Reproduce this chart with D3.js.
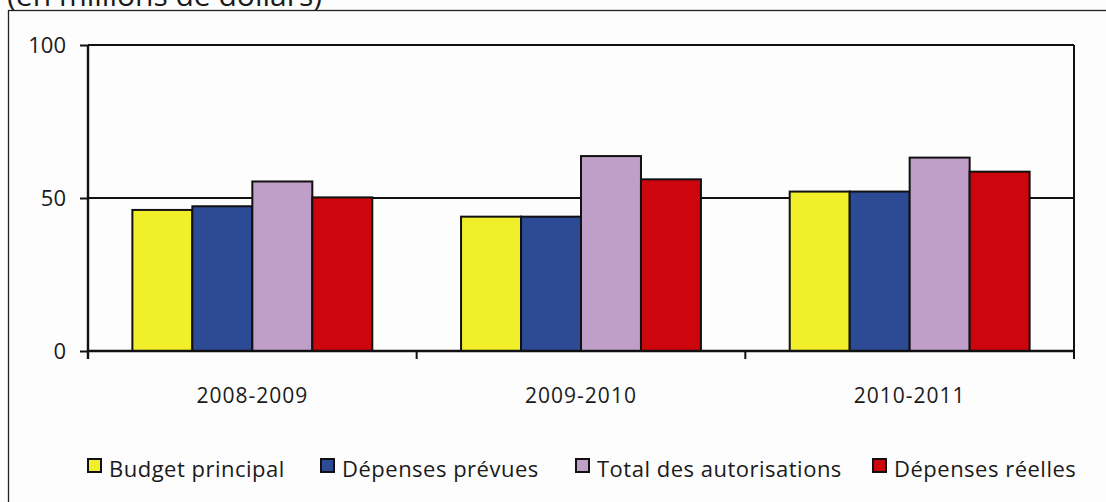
<!DOCTYPE html>
<html>
<head>
<meta charset="utf-8">
<script src="https://cdn.jsdelivr.net/npm/d3@7"></script>
<style>
  body { margin: 0; background: #fdfdfd; }
  svg { display: block; }
  text { font-family: "Open Sans", "DejaVu Sans", sans-serif; fill: #1a1a1a; }
</style>
</head>
<body>
<div id="chart"></div>
<script>
const years = ['2008-2009', '2009-2010', '2010-2011'];
const seriesNames = ['Budget principal', 'Dépenses prévues', 'Total des autorisations', 'Dépenses réelles'];
const budgetPrincipal = [46.1, 43.9, 52.1];
const depensesPrevues = [47.3, 43.9, 52.1];
const totalAutorisations = [55.4, 63.7, 63.2];
const depensesReelles = [50.2, 56.1, 58.6];
const yTicks = [0, 50, 100];
const colors = ['#f1ee2a', '#2d4a95', '#bf9fc7', '#cc060c'];

const seriesValues = [budgetPrincipal, depensesPrevues, totalAutorisations, depensesReelles];

const width = 1106;
const height = 502;
const plot = { left: 88, right: 1074, top: 45, bottom: 351 };

const svg = d3.select('#chart').append('svg').attr('width', width).attr('height', height);

// outer frame (runs off the right and bottom edges)
svg.append('rect')
  .attr('x', 8.5).attr('y', 10.5)
  .attr('width', 1110).attr('height', 520)
  .attr('fill', '#fdfdfd').attr('stroke', '#222').attr('stroke-width', 1.3);

// units caption, partly above the picture as in the original
svg.append('text')
  .attr('x', 7).attr('y', 6)
  .attr('font-size', 30)
  .attr('fill', '#555')
  .text('(en millions de dollars)');

const x = d3.scaleBand().domain(years).range([plot.left, plot.right]).padding(0);
const xInner = d3.scaleBand().domain(seriesNames).range([0, x.bandwidth()]).paddingInner(0).paddingOuter(0.74);
const y = d3.scaleLinear().domain([0, 100]).range([plot.bottom, plot.top]);

// gridlines
svg.append('g')
  .selectAll('line')
  .data(yTicks.filter((t) => t > 0))
  .join('line')
  .attr('x1', plot.left).attr('x2', plot.right)
  .attr('y1', (d) => y(d)).attr('y2', (d) => y(d))
  .attr('stroke', '#111').attr('stroke-width', 1.8);

// right edge of plot
svg.append('line')
  .attr('x1', plot.right).attr('x2', plot.right)
  .attr('y1', plot.top).attr('y2', plot.bottom)
  .attr('stroke', '#111').attr('stroke-width', 2);

// bars
const groups = svg.append('g')
  .selectAll('g')
  .data(years)
  .join('g')
  .attr('transform', (d) => `translate(${x(d)},0)`);

groups.selectAll('rect')
  .data((d, i) => seriesNames.map((s, j) => ({ s, j, v: seriesValues[j][i] })))
  .join('rect')
  .attr('x', (d) => xInner(d.s))
  .attr('width', xInner.bandwidth())
  .attr('y', (d) => y(d.v))
  .attr('height', (d) => y(0) - y(d.v))
  .attr('fill', (d) => colors[d.j])
  .attr('stroke', '#111')
  .attr('stroke-width', 2);

// y axis
const yAxis = svg.append('g')
  .attr('transform', `translate(${plot.left},0)`)
  .call(d3.axisLeft(y).tickValues(yTicks).tickSize(8).tickPadding(14));
yAxis.select('.domain').attr('stroke', '#111').attr('stroke-width', 2.4).attr('d', `M0,${plot.top}V${plot.bottom + 8}`);
yAxis.selectAll('.tick line').attr('stroke', '#111').attr('stroke-width', 2);
yAxis.selectAll('.tick text').attr('font-size', 22).attr('fill', '#1a1a1a')
  .style('font-family', '"Open Sans", sans-serif');

// x axis: ticks at band boundaries
const xAxisG = svg.append('g');
xAxisG.append('line')
  .attr('x1', plot.left).attr('x2', plot.right)
  .attr('y1', plot.bottom).attr('y2', plot.bottom)
  .attr('stroke', '#111').attr('stroke-width', 2.4);
const bounds = years.map((d) => x(d)).concat([x(years[years.length - 1]) + x.bandwidth()]);
xAxisG.selectAll('line.tick')
  .data(bounds)
  .join('line')
  .attr('class', 'tick')
  .attr('x1', (d) => d).attr('x2', (d) => d)
  .attr('y1', plot.bottom).attr('y2', plot.bottom + 8)
  .attr('stroke', '#111').attr('stroke-width', 2);
xAxisG.selectAll('text')
  .data(years)
  .join('text')
  .attr('x', (d) => x(d) + x.bandwidth() / 2)
  .attr('y', 403)
  .attr('text-anchor', 'middle')
  .attr('font-size', 21)
  .attr('letter-spacing', 1)
  .text((d) => d);

// legend
const legendX = [88, 321, 576, 873];
const legend = svg.append('g')
  .selectAll('g')
  .data(seriesNames)
  .join('g')
  .attr('transform', (d, i) => `translate(${legendX[i]},0)`);
legend.append('rect')
  .attr('x', 0).attr('y', 459)
  .attr('width', 13).attr('height', 13)
  .attr('fill', (d, i) => colors[i])
  .attr('stroke', '#111').attr('stroke-width', 2);
legend.append('text')
  .attr('x', 21).attr('y', 477)
  .attr('font-size', 22)
  .attr('letter-spacing', 0.5)
  .text((d) => d);
</script>
</body>
</html>
